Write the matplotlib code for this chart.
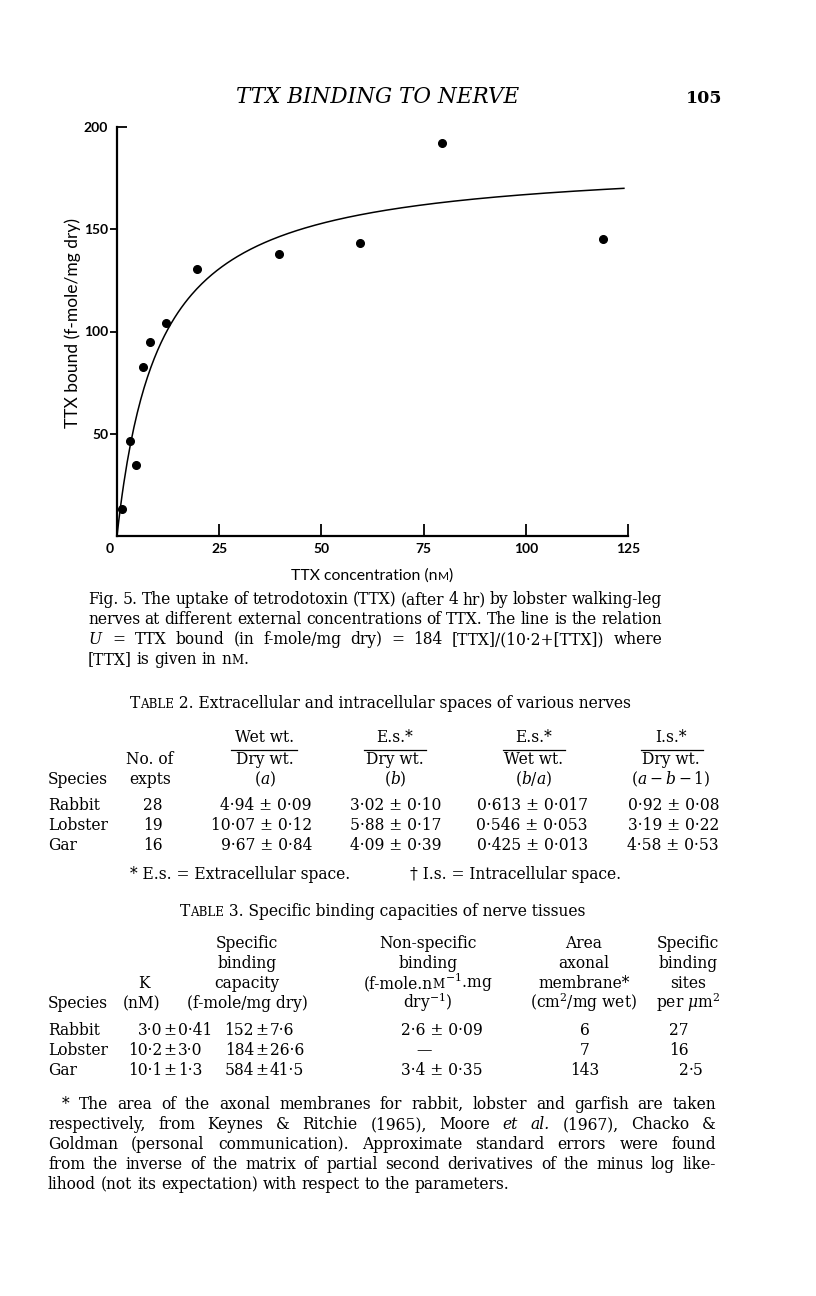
import numpy as np
import matplotlib
matplotlib.use("Agg")
import matplotlib.pyplot as plt
from matplotlib.transforms import ScaledTranslation

W, H = 816, 1296
SERIF = "DejaVu Serif"
SANS = "Lato"
BODY = 11.2
SMALL = 8.6
plt.rcParams["mathtext.fontset"] = "dejavuserif"

# ---- Fig. 5 data ----
ttx_nM = [1.3, 3.2, 4.6, 6.4, 8.0, 11.9, 19.6, 39.6, 59.4, 79.4, 118.8]
bound = [13.3, 46.6, 34.9, 82.4, 94.9, 104.1, 130.6, 138.0, 143.2, 192.1, 145.0]
# the line: U = 184 [TTX] / (10.2 + [TTX])
u_max = 184.0
k_half = 10.2
x_end = 124.0
x_ticks = [0, 25, 50, 75, 100, 125]
y_ticks = [50, 100, 150]
y_top = 200

# ---- Table 2 ----
t2_species = ["Rabbit", "Lobster", "Gar"]
t2_expts = ["28", "19", "16"]
t2_a = ["4·94 ± 0·09", "10·07 ± 0·12", "9·67 ± 0·84"]
t2_b = ["3·02 ± 0·10", "5·88 ± 0·17", "4·09 ± 0·39"]
t2_ba = ["0·613 ± 0·017", "0·546 ± 0·053", "0·425 ± 0·013"]
t2_abi = ["0·92 ± 0·08", "3·19 ± 0·22", "4·58 ± 0·53"]

# ---- Table 3 ----
t3_species = ["Rabbit", "Lobster", "Gar"]
t3_k = [("3·0", "0·41"), ("10·2", "3·0"), ("10·1", "1·3")]
t3_cap = [("152", "7·6"), ("184", "26·6"), ("584", "41·5")]
t3_nonspec = ["2·6 ± 0·09", "—", "3·4 ± 0·35"]
t3_area = ["6", "7", "143"]
t3_sites = ["27", "16", "2·5"]

fig = plt.figure(figsize=(W / 100, H / 100), dpi=100)
fig.patch.set_facecolor("white")
renderer = fig.canvas.get_renderer()


def put(x, y, s, size=BODY, ha="left", family=SERIF, **kw):
    return fig.text(x / W, 1 - y / H, s, fontsize=size, ha=ha, va="baseline",
                    family=family, **kw)


def width(t):
    return t.get_window_extent(renderer).width


def as_parts(word):
    if isinstance(word, str):
        return [(word, BODY, "normal")]
    return word


def group(x, y, parts, ha="left", family=SERIF):
    objs, cx = [], x
    for s, size, style in parts:
        t = put(cx, y, s, size, family=family, style=style)
        objs.append(t)
        cx += width(t)
    total = cx - x
    shift = {"left": 0, "center": total / 2, "right": total}[ha]
    for t in objs:
        px, py = t.get_position()
        t.set_position((px - shift / W, py))
    return objs, total


probe = put(0, 0, "aa")
probe2 = put(0, 0, "a a")
SPACE = width(probe2) - width(probe)
probe.remove()
probe2.remove()


def line(words, x0, x1, y, last=False):
    groups = []
    for w in words:
        objs, wd = group(x0, y, as_parts(w))
        groups.append((objs, wd))
    total = sum(wd for _, wd in groups)
    gap = SPACE if last or len(groups) < 2 else (x1 - x0 - total) / (len(groups) - 1)
    cx = x0
    for objs, wd in groups:
        for t in objs:
            px, py = t.get_position()
            t.set_position((px + (cx - x0) / W, py))
        cx += wd + gap


def rule(x0, x1, y, lw=0.9):
    fig.add_artist(plt.Line2D([x0 / W, x1 / W], [1 - y / H, 1 - y / H],
                              color="black", lw=lw))


# ---- running head ----
put(378, 103, "TTX BINDING TO NERVE", 15.5, ha="center", style="italic")
put(722, 103, "105", 12.5, ha="right", weight="bold")

# ---- Fig. 5 ----
ax = fig.add_axes([117 / W, 1 - 536 / H, 511 / W, 409 / H])
ax.plot(ttx_nM, bound, "o", color="black", ms=5.5, clip_on=False)
xs = np.linspace(0, x_end, 300)
ax.plot(xs, u_max * xs / (k_half + xs), color="black", lw=1.1)
ax.set_xlim(0, 125)
ax.set_ylim(0, y_top)
for s in ["top", "right"]:
    ax.spines[s].set_visible(False)
for s in ["left", "bottom"]:
    ax.spines[s].set_linewidth(1.6)
ax.set_xticks(x_ticks)
ax.tick_params(axis="x", direction="in", length=8.5, width=1.3, pad=5, labelsize=10)
ax.set_yticks(y_ticks)
ax.tick_params(axis="y", direction="out", length=5, width=1.3, pad=1, labelsize=10)
ax.set_yticks([y_top], labels=[str(y_top)], minor=True)
ax.tick_params(axis="y", which="minor", direction="in", length=7.5, width=1.3,
               pad=6.5, labelsize=10)
for lab in ax.get_xticklabels() + ax.get_yticklabels() + ax.get_yticklabels(minor=True):
    lab.set_fontfamily(SANS)
    lab.set_fontweight("bold")
# the origin label sits a little left of the axis in the original
zero = ax.xaxis.get_major_ticks()[0].label1
zero.set_transform(zero.get_transform() + ScaledTranslation(-7 / 100, 0, fig.dpi_scale_trans))
ax.set_ylabel("TTX bound (f-mole/mg dry)", family=SANS, fontsize=12.5)
ax.yaxis.set_label_coords(-0.07, 0.52)
group(372, 580, [("TTX concentration (n", 11.3, "normal"), ("M", 8.6, "normal"),
                 (")", 11.3, "normal")], ha="center", family=SANS)

# ---- caption ----
cx0, cx1 = 88, 662
line("Fig. 5. The uptake of tetrodotoxin (TTX) (after 4 hr) by lobster walking-leg".split(),
     cx0, cx1, 604)
line("nerves at different external concentrations of TTX. The line is the relation".split(),
     cx0, cx1, 624)
line(["$U$", "=", "TTX", "bound", "(in", "f-mole/mg", "dry)", "=", "184",
      "[TTX]/(10·2+[TTX])", "where"], cx0, cx1, 644)
line(["[TTX]", "is", "given", "in",
      [("n", BODY, "normal"), ("M", SMALL, "normal"), (".", BODY, "normal")]],
     cx0, cx1, 664, last=True)

# ---- Table 2 ----
group(380, 708, [("T", BODY, "normal"), ("ABLE", SMALL, "normal"),
                 (" 2. Extracellular and intracellular spaces of various nerves", BODY, "normal")],
      ha="center")
cols2 = [265, 395, 534, 671]
tops2 = ["Wet wt.", "E.s.*", "E.s.*", "I.s.*"]
mids2 = ["Dry wt.", "Dry wt.", "Wet wt.", "Dry wt."]
bots2 = ["($a$)", "($b$)", "($b/a$)", "($a-b-1$)"]
rules2 = [(231, 297), (364, 426), (503, 565), (641, 703)]
for c, a, b, d, (r0, r1) in zip(cols2, tops2, mids2, bots2, rules2):
    put(c, 742, a, ha="center")
    rule(r0, r1, 750)
    put(c, 764, b, ha="center")
    put(c, 784, d, ha="center")
put(150, 764, "No. of", ha="center")
put(150, 784, "expts", ha="center")
put(48, 784, "Species")
right2 = [312, 441, 588, 719]
for i, y in enumerate([810, 830, 850]):
    put(48, y, t2_species[i])
    put(153, y, t2_expts[i], ha="center")
    for r, col in zip(right2, [t2_a, t2_b, t2_ba, t2_abi]):
        put(r, y, col[i], ha="right")
put(130, 879, "* E.s. = Extracellular space.")
put(410, 879, "† I.s. = Intracellular space.")

# ---- Table 3 ----
group(383, 916, [("T", BODY, "normal"), ("ABLE", SMALL, "normal"),
                 (" 3. Specific binding capacities of nerve tissues", BODY, "normal")],
      ha="center")
hy = [948, 968, 988, 1008]
put(48, hy[3], "Species")
put(144, hy[2], "K", ha="center")
put(142, hy[3], "(nM)", ha="center")
for y, s in zip(hy, ["Specific", "binding", "capacity", "(f-mole/mg dry)"]):
    put(247, y, s, ha="center")
put(428, hy[0], "Non-specific", ha="center")
put(428, hy[1], "binding", ha="center")
group(428, hy[2], [("(f-mole.n", BODY, "normal"), ("M", SMALL, "normal"),
                   ("$^{-1}$.mg", BODY, "normal")], ha="center")
put(428, hy[3], "dry$^{-1}$)", ha="center")
for y, s in zip(hy, ["Area", "axonal", "membrane*", "(cm$^2$/mg wet)"]):
    put(584, y, s, ha="center")
for y, s in zip(hy, ["Specific", "binding", "sites", "per $\\mu$m$^2$"]):
    put(688, y, s, ha="center")

pm_cols = [170, 262]
for i, y in enumerate([1035, 1055, 1075]):
    put(48, y, t3_species[i])
    for pm, col in zip(pm_cols, [t3_k, t3_cap]):
        lft, rgt = col[i]
        put(pm - 8, y, lft, ha="right")
        put(pm, y, "±", ha="center")
        put(pm + 8, y, rgt)
    entry = t3_nonspec[i]
    put(424 if entry == "—" else 442, y, entry, ha="center")
    put(585, y, t3_area[i], ha="center")
    whole, _, frac = t3_sites[i].partition("·")
    put(689, y, whole, ha="right")
    if frac:
        put(689, y, "·" + frac)

# ---- footnote ----
fx0, fx1 = 48, 716
line("* The area of the axonal membranes for rabbit, lobster and garfish are taken".split(),
     62, fx1, 1109)
line(["respectively,", "from", "Keynes", "&", "Ritchie", "(1965),", "Moore",
      [("et", BODY, "italic")], [("al.", BODY, "italic")], "(1967),", "Chacko", "&"],
     fx0, fx1, 1129)
line("Goldman (personal communication). Approximate standard errors were found".split(),
     fx0, fx1, 1149)
line("from the inverse of the matrix of partial second derivatives of the minus log like-".split(),
     fx0, fx1, 1169)
line("lihood (not its expectation) with respect to the parameters.".split(),
     fx0, fx1, 1189, last=True)

fig.savefig("out.png", dpi=100, facecolor="white")
